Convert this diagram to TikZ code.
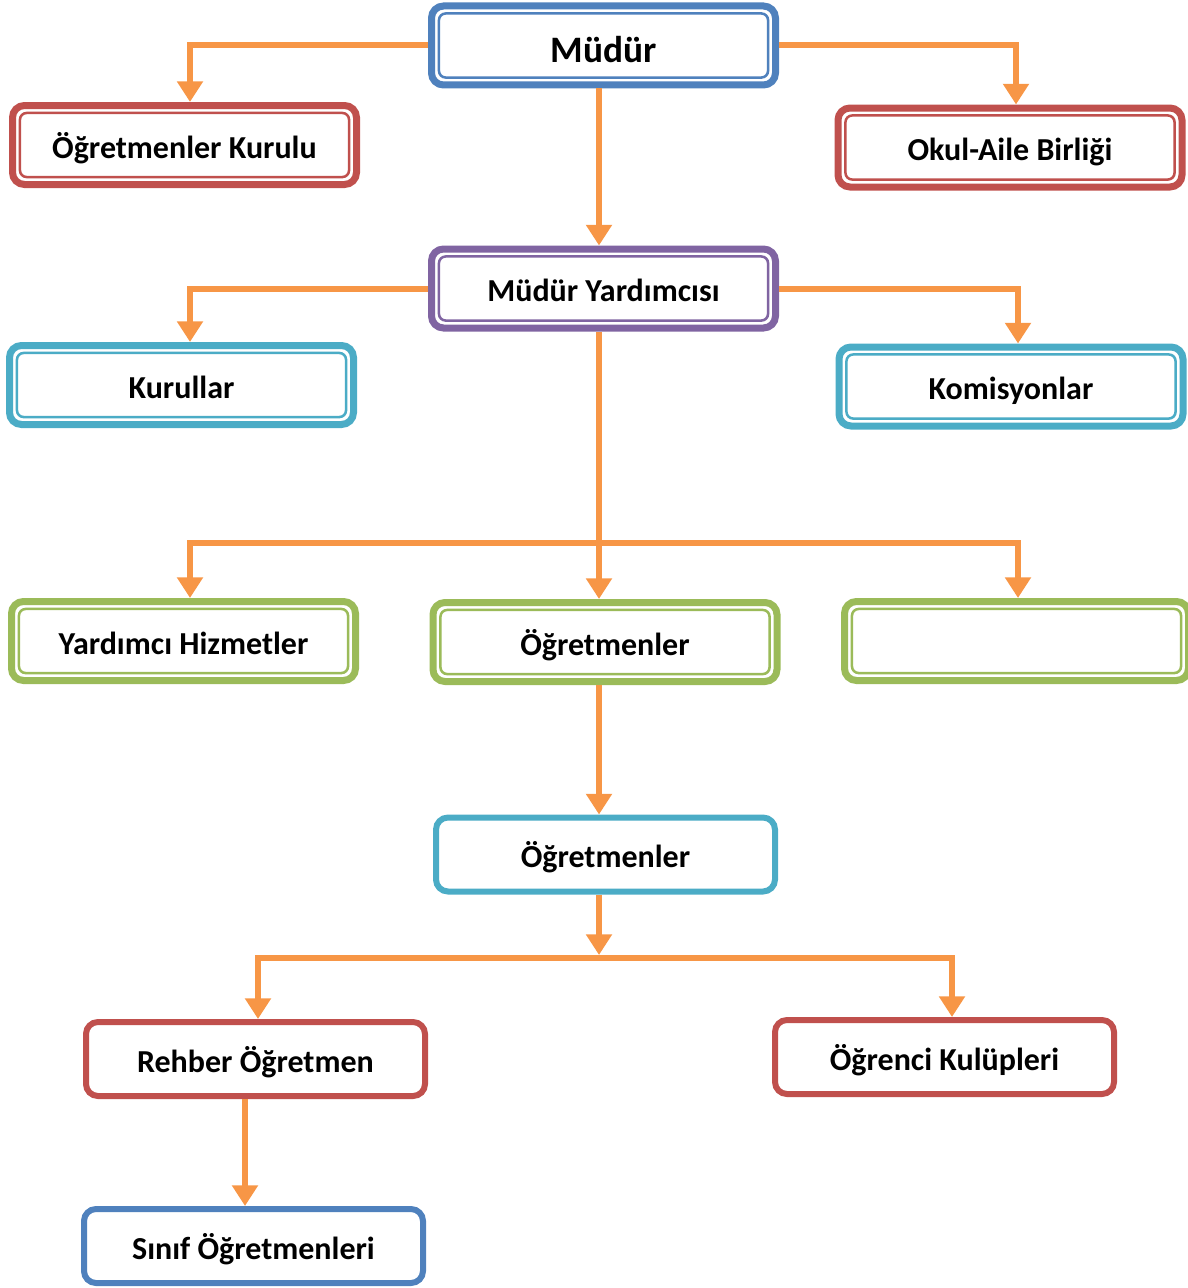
\documentclass[tikz,border=0pt]{standalone}
\usepackage{fontspec}
\setmainfont{Carlito}
\usetikzlibrary{arrows.meta,calc}
\definecolor{cblue}{HTML}{4F81BD}
\definecolor{cred}{HTML}{C0504D}
\definecolor{cpurple}{HTML}{8064A2}
\definecolor{ccyan}{HTML}{4BACC6}
\definecolor{cgreen}{HTML}{9BBB59}
\definecolor{corange}{HTML}{F79646}
\newlength\px
\setlength\px{0.75pt}
\tikzset{
  dblbox/.style={draw=#1, line width=5.25pt, rounded corners=9pt, fill=white,
    inner sep=0pt, minimum width=344\px, minimum height=79\px,
    font=\fontsize{24}{28}\selectfont\bfseries, text height=22pt, text depth=2.5pt,
    path picture={\draw[#1, line width=1.9pt, rounded corners=5pt]
      ([xshift=5.6pt,yshift=5.6pt]path picture bounding box.south west) rectangle
      ([xshift=-5.6pt,yshift=-5.6pt]path picture bounding box.north east);}},
  sglbox/.style={draw=#1, line width=4.5pt, rounded corners=9pt, fill=white,
    inner sep=0pt, minimum width=339\px, minimum height=74\px,
    font=\fontsize{24}{28}\selectfont\bfseries, text height=22pt, text depth=2.5pt},
  conn/.style={draw=corange, line width=4.5pt, -{Triangle[width=18.75pt,length=15.5pt]}},
  conn2/.style={draw=corange, line width=4.5pt, {Triangle[width=18.75pt,length=15.5pt]}-{Triangle[width=18.75pt,length=15.5pt]}}
}
\begin{document}
\begin{tikzpicture}[x=0.75pt,y=-0.75pt]
\useasboundingbox (0,0) rectangle (1188,1288);
\node[dblbox=cblue, font=\fontsize{28}{32}\selectfont\bfseries, text height=28pt, text depth=2pt] (mudur) at (603.5,45.5) {Müdür};
\node[dblbox=cred] (ogk) at (184.5,145) {Öğretmenler Kurulu};
\node[dblbox=cred] (oab) at (1010,147.5) {Okul-Aile Birliği};
\node[dblbox=cpurple] (my) at (603.5,288.5) {Müdür Yardımcısı};
\node[dblbox=ccyan] (kur) at (181.5,385) {Kurullar};
\node[dblbox=ccyan] (kom) at (1011,386.5) {Komisyonlar};
\node[dblbox=cgreen] (yh) at (183.5,641) {Yardımcı Hizmetler};
\node[dblbox=cgreen] (ogr1) at (605,642) {Öğretmenler};
\node[dblbox=cgreen] (empty) at (1016.5,641) {};
\node[sglbox=ccyan] (ogr2) at (605.5,854.5) {Öğretmenler};
\node[sglbox=cred] (reh) at (255.5,1059) {Rehber Öğretmen};
\node[sglbox=cred] (okl) at (944.5,1057) {Öğrenci Kulüpleri};
\node[sglbox=cblue] (sin) at (253.5,1246) {Sınıf Öğretmenleri};
\coordinate (bar) at (599,543);
\coordinate (bar2) at (599,958);
% connectors
\draw[conn] (mudur.west) -| ($(ogk.north)+(5.5,0)$);
\draw[conn] (mudur.east) -| ($(oab.north)+(6,0)$);
\draw[conn] ($(mudur.south)+(-4.5,0)$) -- ($(my.north)+(-4.5,0)$);
\draw[conn] (my.west) -| ($(kur.north)+(8.5,0)$);
\draw[conn] (my.east) -| ($(kom.north)+(7,0)$);
\draw[conn] ($(my.south)+(-4.5,0)$) -- ($(ogr1.north)+(-6,0)$);
\draw[conn2] ($(yh.north)+(6.5,0)$) |- (bar) -| ($(empty.north)+(1.5,0)$);
\draw[conn] ($(ogr1.south)+(-6,0)$) -- ($(ogr2.north)+(-6.5,0)$);
\draw[conn] ($(ogr2.south)+(-6.5,0)$) -- ($(bar2)+(0,-3)$);
\draw[conn2] ($(reh.north)+(2.5,0)$) |- (bar2) -| ($(okl.north)+(7.5,0)$);
\draw[conn] ($(reh.south)+(-10.5,0)$) -- ($(sin.north)+(-8.5,0)$);
\end{tikzpicture}
\end{document}
